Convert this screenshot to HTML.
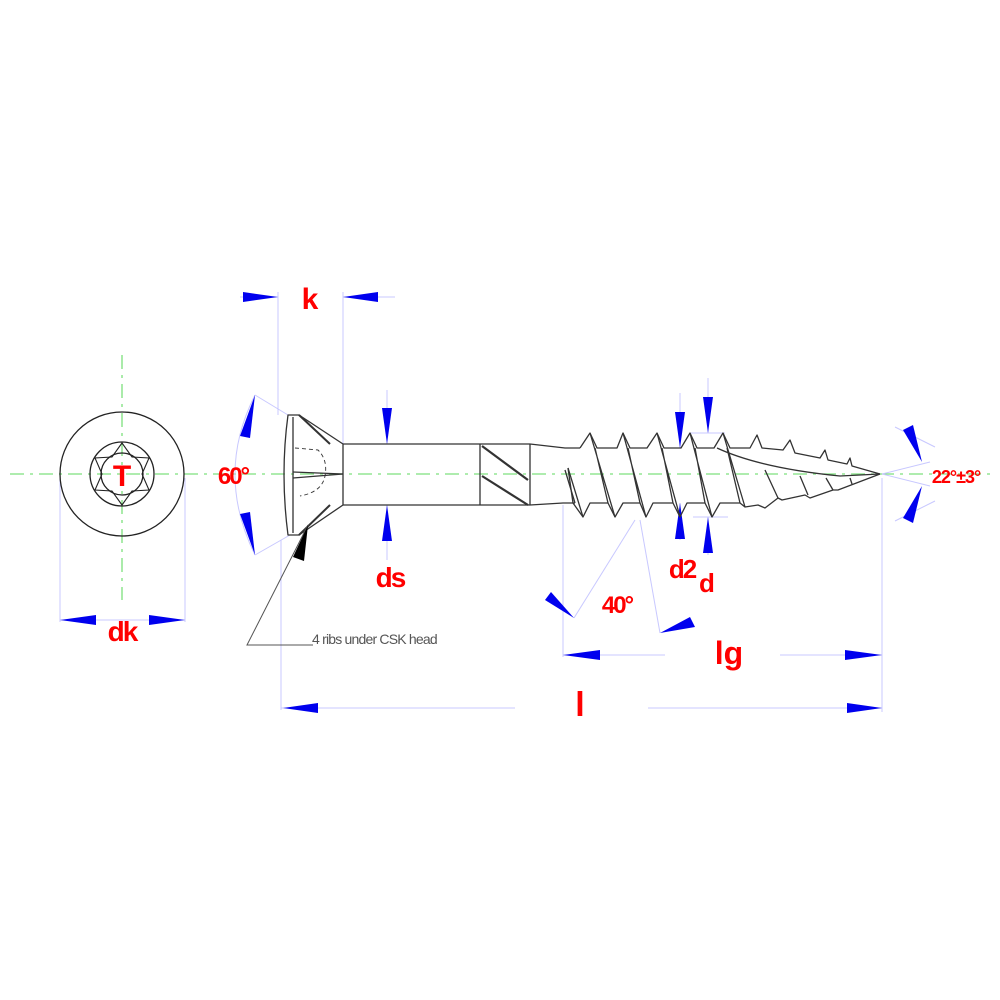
<!DOCTYPE html>
<html><head><style>
html,body{margin:0;padding:0;background:#fff;}
svg{display:block}
.r{fill:#f00;font-family:"Liberation Sans",sans-serif;font-weight:bold}
</style></head><body>
<svg width="1000" height="1000" viewBox="0 0 1000 1000" xmlns="http://www.w3.org/2000/svg">
<g stroke="#7de07d" stroke-width="1.3" stroke-dasharray="14,6,3,6" fill="none">
<line x1="10" y1="474" x2="990" y2="474"/>
<line x1="122" y1="355" x2="122" y2="600"/>
</g>
<g stroke="#c8c8ff" stroke-width="1" fill="none">
<line x1="278" y1="292" x2="278" y2="415"/>
<line x1="343" y1="292" x2="343" y2="444"/>
<line x1="281" y1="540" x2="281" y2="710"/>
<line x1="882" y1="478" x2="882" y2="712"/>
<line x1="563" y1="505" x2="563" y2="657"/>
<line x1="60" y1="478" x2="60" y2="622"/>
<line x1="185" y1="478" x2="185" y2="622"/>
<line x1="240" y1="297" x2="278" y2="297"/><line x1="343" y1="297" x2="395" y2="297"/>
<line x1="60" y1="620" x2="185" y2="620"/>
<line x1="563" y1="655" x2="665" y2="655"/><line x1="780" y1="655" x2="882" y2="655"/>
<line x1="281" y1="708" x2="515" y2="708"/><line x1="648" y1="708" x2="882" y2="708"/>
<line x1="387" y1="390" x2="387" y2="444"/><line x1="387" y1="505" x2="387" y2="560"/>
<line x1="680" y1="393" x2="680" y2="448"/><line x1="680" y1="503" x2="680" y2="540"/>
<line x1="708" y1="378" x2="708" y2="433"/><line x1="708" y1="517" x2="708" y2="555"/>
<line x1="690" y1="433" x2="725" y2="433"/><line x1="693" y1="517" x2="728" y2="517"/>
<line x1="255" y1="395" x2="288" y2="415"/><line x1="255" y1="555" x2="290" y2="535"/>
<path d="M255 395 Q215 474 255 555"/>
<line x1="574" y1="618" x2="635" y2="520"/><line x1="660" y1="633" x2="640" y2="520"/>
<line x1="895" y1="427" x2="935" y2="447"/><line x1="895" y1="521" x2="935" y2="501"/>
<line x1="882" y1="474" x2="930" y2="462"/><line x1="882" y1="474" x2="930" y2="486"/>
</g>
<g fill="#0000ee">
<polygon points="278,297 243,292 243,302"/>
<polygon points="343,297 378,292 378,302"/>
<polygon points="60,620 96,615 96,625"/>
<polygon points="185,620 149,615 149,625"/>
<polygon points="563,655 600,650 600,660"/>
<polygon points="882,655 845,650 845,660"/>
<polygon points="283,708 318,703 318,713"/>
<polygon points="882,708 847,703 847,713"/>
<polygon points="387,444 382,408 392,408"/>
<polygon points="387,505 382,541 392,541"/>
<polygon points="680,448 675,412 685,412"/>
<polygon points="680,503 675,539 685,539"/>
<polygon points="708,433 703,397 713,397"/>
<polygon points="708,517 703,553 713,553"/>
<polygon points="255,395 240,436 250,438"/>
<polygon points="255,555 240,514 250,512"/>
<polygon points="574,618 545,600 551,592"/>
<polygon points="660,633 690,617 695,627"/>
<polygon points="922,462 903,430 913,425"/>
<polygon points="922,486 903,518 913,523"/>
</g>
<g stroke="#222" stroke-width="1.3" fill="none">
<circle cx="122" cy="474" r="62"/>
<circle cx="122" cy="474" r="32"/>
<circle cx="122" cy="474" r="21"/>
<path d="M122 443 L132 457 L149 458 L142 474 L149 490 L132 491 L122 505 L112 491 L95 490 L102 474 L95 458 L112 457 Z" stroke-width="1.1"/>
</g>
<g stroke="#333" stroke-width="1.3" fill="none" stroke-linejoin="round">
<path d="M288 415 L299 415 L343 444 L343 505 L299 535 L288 535 Q280 474 288 415 Z"/>
<line x1="293" y1="417" x2="293" y2="533"/>
<line x1="299" y1="415" x2="330" y2="444" stroke-width="2"/>
<line x1="299" y1="535" x2="330" y2="505" stroke-width="2"/>
<line x1="293" y1="472" x2="343" y2="474"/><line x1="293" y1="478" x2="343" y2="474"/>
<path d="M295 448 L318 450 Q328 460 325 476 Q322 492 300 496" stroke-dasharray="4,3" stroke-width="0.9"/>
<line x1="343" y1="444" x2="480" y2="444"/><line x1="343" y1="505" x2="480" y2="505"/>
<line x1="480" y1="444" x2="480" y2="505"/>
<line x1="480" y1="444" x2="530" y2="444"/><line x1="480" y1="505" x2="530" y2="505"/>
<line x1="530" y1="444" x2="530" y2="505"/>
<line x1="482" y1="446" x2="528" y2="480" stroke-width="2.2"/>
<line x1="482" y1="476" x2="528" y2="505" stroke-width="2.2"/>
<path d="M530 444 L565 448 L580 448"/><path d="M530 505 L563 503 L575 503"/>
<path d="M580 448 L590 433 L597 448 L617 448 L623 433 L630 448 L647 448 L657 433 L664 448 L681 448 L690 433 L697 448 L714 448 L723 433 L730 448 L750 448 L757 435 L762 448 L783 450 L790 440 L795 453 L820 458 L825 450 L828 460 L847 464 L850 458 L852 466 L880 474"/>
<path d="M568 468 L573 503 L583 517 L590 503 L608 503 L615 517 L623 503 L640 503 L646 517 L653 503 L673 503 L680 517 L687 503 L705 503 L712 517 L720 503 L740 503 L745 507 L758 505 L765 508 L778 498 L782 500 L805 495 L810 498 L833 490 L838 490 L880 474"/>
<path d="M717 448 Q760 468 840 476 L880 474"/>
<path d="M590 433 L615 517 M595 448 L608 503 M623 433 L646 517 M628 448 L640 503 M657 433 L680 517 M662 448 L673 503 M690 433 L712 517 M695 448 L705 503 M723 433 L745 507 M727 448 L740 503 M765 470 L778 498 M800 476 L808 495 M826 478 L833 490 M850 478 L852 484"/>
<path d="M568 468 L583 517 M565 470 L575 503"/>
</g>
<g stroke="#555" stroke-width="1" fill="none">
<polyline points="308,525 247,645 313,645"/>
</g>
<polygon points="308,525 293,557 304,561" fill="#000"/>
<text x="312" y="644" font-family="Liberation Sans,sans-serif" font-size="14" fill="#555" letter-spacing="-0.8">4 ribs under CSK head</text>
<text class="r" x="310" y="309" font-size="30" text-anchor="middle">k</text>
<text class="r" x="390" y="587" font-size="28" text-anchor="middle" letter-spacing="-2">ds</text>
<text class="r" x="233" y="484" font-size="24" text-anchor="middle" font-weight="normal" letter-spacing="-2">60°</text>
<text class="r" x="122" y="641" font-size="28" text-anchor="middle" letter-spacing="-2">dk</text>
<text class="r" x="122" y="486" font-size="30" text-anchor="middle">T</text>
<text class="r" x="729" y="664" font-size="32" text-anchor="middle" font-weight="normal">lg</text>
<text class="r" x="580" y="716" font-size="34" text-anchor="middle" font-weight="normal">l</text>
<text class="r" x="682" y="578" font-size="26" text-anchor="middle" font-weight="normal" letter-spacing="-2">d2</text>
<text class="r" x="707" y="592" font-size="26" text-anchor="middle" font-weight="normal">d</text>
<text class="r" x="617" y="613" font-size="24" text-anchor="middle" font-weight="normal" letter-spacing="-2">40°</text>
<text class="r" x="956" y="483" font-size="18" text-anchor="middle" font-weight="normal" letter-spacing="-1">22°±3°</text>
</svg>
</body></html>
